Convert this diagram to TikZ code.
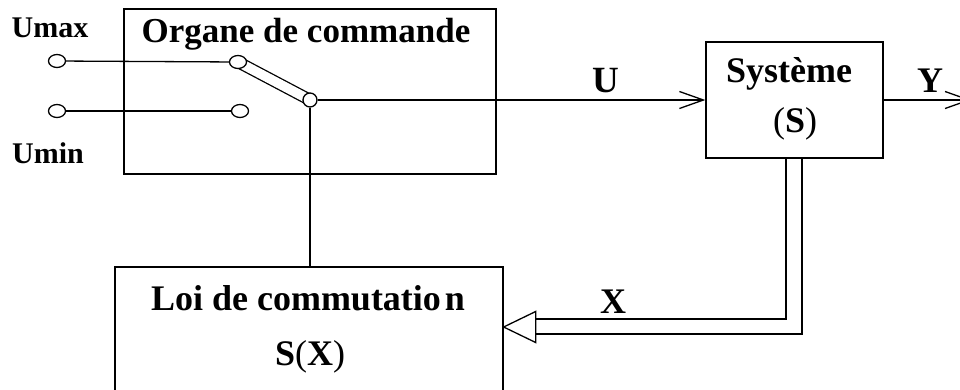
\documentclass[tikz,border=0pt]{standalone}
\usepackage{fontspec}
\setmainfont{Liberation Serif}
\usetikzlibrary{arrows.meta,shapes.geometric,calc}
\begin{document}
\begin{tikzpicture}[x=1pt,y=-1pt,
  line width=1.3pt,
  block/.style={draw, rectangle, inner sep=0pt},
  term/.style={draw, ellipse, fill=white, minimum width=17pt, minimum height=13pt, inner sep=0pt},
  lbl/.style={font=\fontsize{36}{36}\selectfont\bfseries, inner sep=0pt, anchor=base},
  small/.style={font=\fontsize{30}{30}\selectfont\bfseries, inner sep=0pt, anchor=base},
  barb/.style={-{Straight Barb[length=24pt,width=17pt,line width=1.3pt]}},
  rod/.style={double=white, double distance=9.5pt, line cap=round},
]
\useasboundingbox (0,0) rectangle (960,389);
\clip (0,0) rectangle (960,389);

% blocks
\node[block, minimum width=372pt, minimum height=165pt] (organe) at (310,91.5) {};
\node[block, minimum width=177pt, minimum height=116pt] (sys) at (794.5,100) {};
\node[block, minimum width=388pt, minimum height=160pt] (loi) at (309,347) {};

% switch lever (drawn below its end contacts)
\coordinate (pmax) at (238,62);
\coordinate (ppiv) at (310,100);
\draw[rod] (pmax) -- (ppiv);

% contacts
\node[term] (tmax) at (57,61) {};
\node[term] (tmin) at (57,111) {};
\node[term] (cmax) at (pmax) {};
\node[term] (cmin) at (240,111) {};
\node[term, minimum width=14pt, minimum height=14pt] (piv) at (ppiv) {};

% wiring
\draw (tmax) -- (cmax);
\draw (tmin) -- (cmin);
\draw[barb] (piv) -- (sys.west);
\draw (piv) -- (piv |- loi.north);
\coordinate (yout) at (971,100);
\draw[barb] (sys.east) -- (yout);

% feedback of X (double line with hollow head)
\coordinate (fbtip) at (loi.east |- 0,327);
\coordinate (fbbase) at ($(fbtip)+(32,0)$);
\draw ([xshift=-8.5pt]sys.south) |- ($(fbbase)+(0,-8)$);
\draw ([xshift=7.5pt]sys.south) |- ($(fbbase)+(0,7)$);
\draw ($(fbbase)+(0,-15.5)$) -- (fbtip) -- ($(fbbase)+(0,15.5)$) -- cycle;

% labels
\node[small] (umax) at (50,37) {Umax};
\node[small] (umin) at (48,163) {Umin};
\node[lbl, font=\fontsize{35}{35}\selectfont\bfseries] (torg) at (306,42) {Organe de commande};
\node[lbl, font=\fontsize{37}{37}\selectfont\bfseries] (lu) at (606,92) {U};
\node[lbl] (ly) at (930,92) {Y};
\node[lbl] (lx) at (613,313) {X};
\node[lbl] (tsys) at (789,82) {Système};
\node[lbl] (tsys2) at (795,132) {{\mdseries(}S{\mdseries)}};
\node[lbl] (tloi) at (308,310) {Loi de commutatio\hspace{4pt}n};
\node[lbl] (tloi2) at (310,365) {S{\mdseries(}X{\mdseries)}};
\end{tikzpicture}
\end{document}
